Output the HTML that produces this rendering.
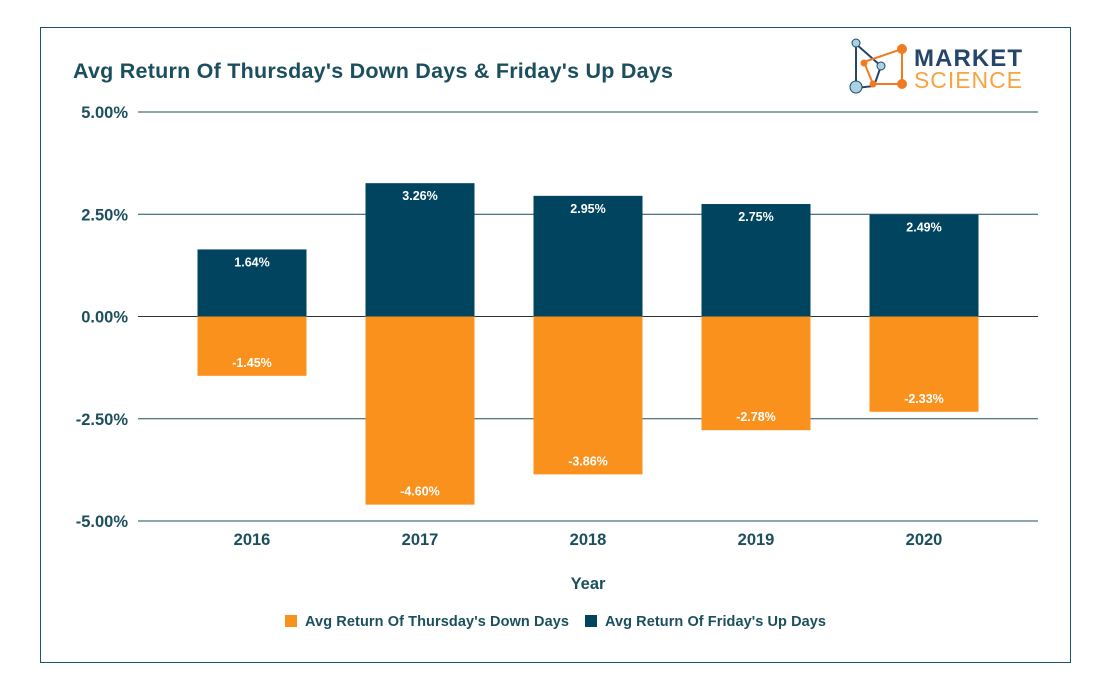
<!DOCTYPE html>
<html><head><meta charset="utf-8"><style>
body{margin:0;background:#fff;font-family:"Liberation Sans",sans-serif}
svg{display:block}
</style></head><body>
<svg width="1109" height="694" viewBox="0 0 1109 694">
<rect x="40.5" y="27.5" width="1030" height="635" fill="#fff" stroke="#1b5566" stroke-width="1"/>
<text x="73" y="78" font-size="21.5" font-weight="bold" fill="#1c4f5e" textLength="600">Avg Return Of Thursday's Down Days &amp; Friday's Up Days</text>
<g>
<polyline points="856,44 881,66 874,86 856,88 856,44" fill="none" stroke="#24466a" stroke-width="2"/>
<polyline points="864,62 902,49 902,84 873,84 864,62" fill="none" stroke="#f07b21" stroke-width="2"/>
<circle cx="856" cy="43" r="4" fill="#a7d3e3" stroke="#24466a"/>
<circle cx="881" cy="66" r="4" fill="#a7d3e3" stroke="#24466a"/>
<circle cx="856" cy="87" r="6" fill="#a7d3e3" stroke="#24466a"/>
<circle cx="864" cy="63" r="3.5" fill="#f07b21"/>
<circle cx="902" cy="49" r="5" fill="#f07b21"/>
<circle cx="902" cy="84" r="5" fill="#f07b21"/>
<circle cx="873" cy="84" r="3.5" fill="#f07b21"/>
<text x="914" y="66" font-size="24" font-weight="bold" fill="#24466a" textLength="108">MARKET</text>
<text x="914" y="88" font-size="23" fill="#f7a440" textLength="108">SCIENCE</text>
</g>
<g id="plot"></g>
<text x="588" y="589" font-size="16.5" font-weight="bold" fill="#1c4f5e" text-anchor="middle">Year</text>
<g>
<rect x="285" y="615" width="12" height="12" fill="#fa911c"/>
<text x="305" y="626" font-size="14.5" font-weight="bold" fill="#1c4f5e" textLength="264">Avg Return Of Thursday's Down Days</text>
<rect x="585" y="615" width="12" height="12" fill="#004460"/>
<text x="605" y="626" font-size="14.5" font-weight="bold" fill="#1c4f5e" textLength="221">Avg Return Of Friday's Up Days</text>
</g>
</svg>
<script>
const categories=["2016","2017","2018","2019","2020"];
const thursdayDown=[-1.45,-4.60,-3.86,-2.78,-2.33];
const fridayUp=[1.64,3.26,2.95,2.75,2.49];
const yTicks=[5,2.5,0,-2.5,-5];
const NS="http://www.w3.org/2000/svg";
const g=document.getElementById('plot');
const y=v=>316.5-v*40.9;
const x=i=>252+i*168;
const bw=109;
function mk(t,a){const e=document.createElementNS(NS,t);for(const k in a)e.setAttribute(k,a[k]);g.appendChild(e);return e;}
yTicks.forEach(v=>{
  const l=mk('line',{x1:138,x2:1038,y1:y(v),y2:y(v),stroke:v===0?'#333':'#1b4f5e','stroke-width':1});
  
  
  const t=mk('text',{x:128,y:y(v)+6,'font-size':16.5,'font-weight':'bold',fill:'#1c4f5e','text-anchor':'end'});
  t.textContent=v.toFixed(2)+'%';
  
  
});
categories.forEach((c,i)=>{
  const cx=x(i);
  const f=fridayUp[i], d=thursdayDown[i];
  const b1=mk('rect',{x:cx-bw/2,y:y(f),width:bw,height:y(0)-y(f),fill:'#004460'});
  
  
  const b2=mk('rect',{x:cx-bw/2,y:y(0),width:bw,height:y(d)-y(0),fill:'#fa911c'});
  
  
  const t1=mk('text',{x:cx,y:y(f)+17,'font-size':12.5,'font-weight':'bold',fill:'#fff','text-anchor':'middle'});
  t1.textContent=f.toFixed(2)+'%';
  
  
  const t2=mk('text',{x:cx,y:y(d)-9,'font-size':12.5,'font-weight':'bold',fill:'#fff','text-anchor':'middle'});
  t2.textContent=d.toFixed(2)+'%';
  
  
  const xl=mk('text',{x:cx,y:545,'font-size':16.5,'font-weight':'bold',fill:'#1c4f5e','text-anchor':'middle'});
  xl.textContent=c;
  
  
});
</script>
</body></html>
